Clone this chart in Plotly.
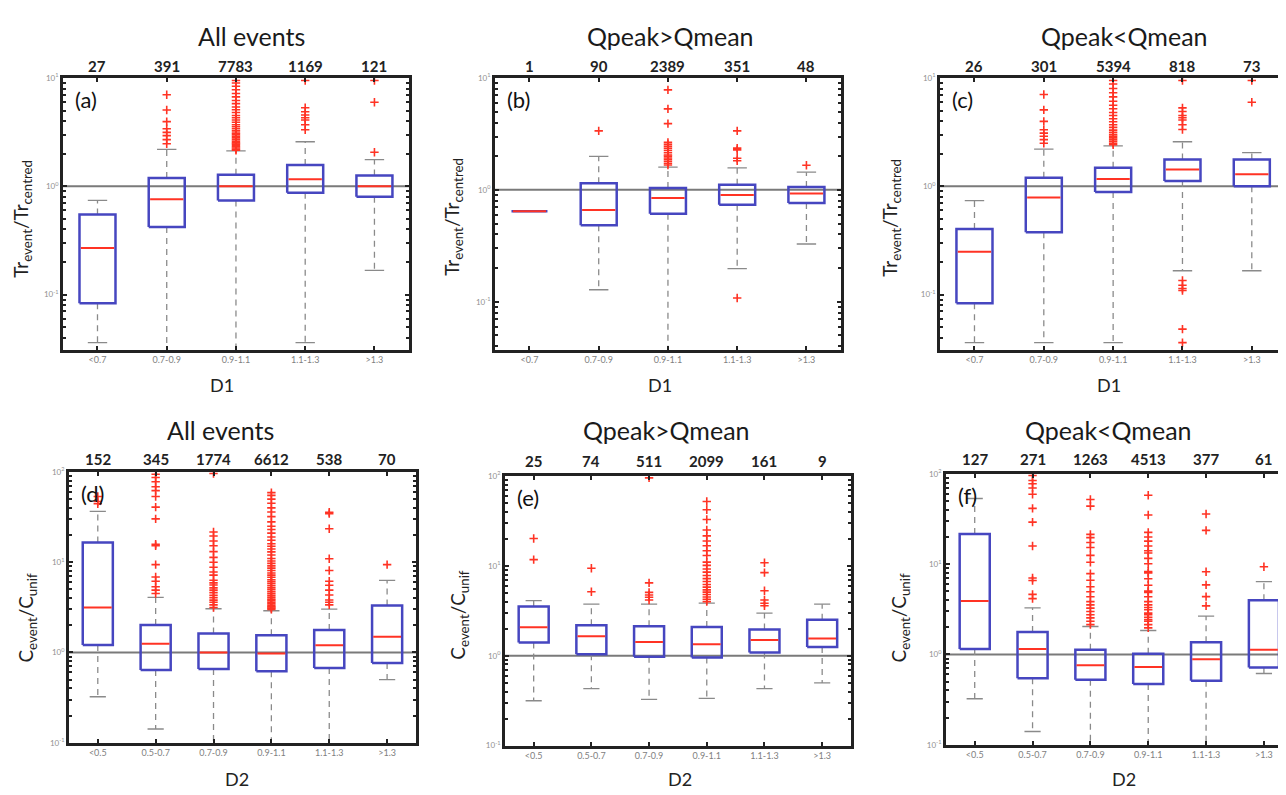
import plotly.graph_objects as go

# The page body has an 8px margin, so the figure is sized to the visible area
# and all layout positions are expressed in window pixels minus that margin.
PAGE_MARGIN = 8
W, H = 1286 - PAGE_MARGIN, 795 - PAGE_MARGIN

# ---------------- data ----------------
cats_D1 = ["<0.7", "0.7-0.9", "0.9-1.1", "1.1-1.3", ">1.3"]
cats_D2 = ["<0.5", "0.5-0.7", "0.7-0.9", "0.9-1.1", "1.1-1.3", ">1.3"]

# (a) All events, D1
a_counts = [27, 391, 7783, 1169, 121]
a_q1 = [0.083, 0.42, 0.74, 0.87, 0.80]
a_med = [0.27, 0.76, 1.0, 1.16, 1.0]
a_q3 = [0.55, 1.19, 1.28, 1.57, 1.26]
a_lo = [0.036, 0.01, 0.01, 0.036, 0.167]
a_hi = [0.74, 2.19, 2.12, 2.58, 1.76]
a_out = [[],
         [7.0, 5.06, 3.96, 3.40, 3.15, 2.94, 2.70, 2.47],
         [9.5, 9.0, 8.4, 7.8, 7.2, 6.7, 6.2, 5.8, 5.4, 5.1, 4.8, 4.5, 4.3, 4.1, 3.9, 3.7,
          3.55, 3.4, 3.25, 3.1, 3.0, 2.9, 2.8, 2.7, 2.6, 2.52, 2.45, 2.38, 2.32, 2.26, 2.2, 2.15],
         [9.5, 5.31, 4.88, 4.56, 4.3, 4.1, 3.7, 3.33],
         [9.5, 5.97, 2.06]]

# (b) Qpeak>Qmean, D1
b_counts = [1, 90, 2389, 351, 48]
b_q1 = [0.645, 0.482, 0.611, 0.738, 0.763]
b_med = [0.645, 0.662, 0.845, 0.898, 0.928]
b_q3 = [0.645, 1.145, 1.04, 1.11, 1.06]
b_lo = [0.645, 0.128, 0.01, 0.198, 0.328]
b_hi = [0.645, 1.99, 1.60, 1.57, 1.44]
b_out = [[],
         [3.37],
         [7.84, 5.30, 3.91, 2.66, 2.55, 2.45, 2.35, 2.25, 2.15, 2.05, 2.0, 1.93, 1.87, 1.80, 1.73, 1.67],
         [3.37, 2.36, 2.28, 1.92, 1.82, 0.108],
         [1.66]]

# (c) Qpeak<Qmean, D1
c_counts = [26, 301, 5394, 818, 73]
c_q1 = [0.083, 0.376, 0.888, 1.12, 1.0]
c_med = [0.249, 0.789, 1.17, 1.43, 1.29]
c_q3 = [0.404, 1.2, 1.48, 1.77, 1.77]
c_lo = [0.036, 0.036, 0.036, 0.166, 0.166]
c_hi = [0.736, 2.2, 2.36, 2.58, 2.05]
c_out = [[],
         [7.05, 5.08, 3.98, 3.33, 3.1, 2.9, 2.7, 2.5],
         [9.5, 8.8, 8.0, 7.3, 6.7, 6.1, 5.6, 5.2, 4.8, 4.5, 4.2, 3.95, 3.7, 3.5, 3.3, 3.15,
          3.0, 2.9, 2.8, 2.7, 2.6, 2.5, 2.42],
         [9.5, 5.3, 4.9, 4.5, 4.3, 4.1, 3.7, 3.35, 0.135, 0.122, 0.114, 0.109, 0.048, 0.036],
         [9.5, 5.97]]

# (d) All events, D2
d_counts = [152, 345, 1774, 6612, 538, 70]
d_q1 = [1.21, 0.641, 0.658, 0.621, 0.675, 0.765]
d_med = [3.15, 1.25, 1.0, 0.975, 1.2, 1.49]
d_q3 = [16.5, 2.02, 1.62, 1.55, 1.77, 3.31]
d_lo = [0.323, 0.142, 0.05, 0.05, 0.05, 0.499]
d_hi = [36.6, 4.08, 3.05, 2.9, 3.02, 6.3]
d_out = [[53.4, 47.0, 44.4],
         [94.4, 86.7, 77.8, 68.6, 62.0, 53.4, 40.8, 30.2, 15.8, 15.2, 9.4, 6.86, 6.15, 5.34, 4.9, 4.5],
         [96.0, 21.6, 19.5, 17.2, 15.2, 13.1, 11.3, 10.0, 8.8, 7.8, 7.2, 6.3, 5.9, 5.6, 5.2, 4.9,
          4.6, 4.3, 4.05, 3.8, 3.6, 3.37, 3.15],
         [59, 55, 50, 45, 40, 36, 32, 28, 25, 23, 21, 19, 17.5, 16, 15, 14, 13, 12, 11, 10.3,
          9.7, 9.1, 8.6, 8.1, 7.6, 7.2, 6.8, 6.4, 6.1, 5.8, 5.5, 5.2, 4.95, 4.7, 4.5, 4.3, 4.1,
          3.9, 3.75, 3.6, 3.45, 3.3, 3.2, 3.1, 3.0],
         [35.7, 34.5, 23.5, 10.9, 8.1, 6.15, 5.56, 4.9, 4.33, 3.82, 3.6, 3.37],
         [9.4]]

# (e) Qpeak>Qmean, D2
e_counts = [25, 74, 511, 2099, 161, 9]
e_q1 = [1.40, 1.04, 0.975, 0.959, 1.09, 1.25]
e_med = [2.08, 1.65, 1.42, 1.34, 1.50, 1.55]
e_q3 = [3.53, 2.18, 2.13, 2.09, 1.96, 2.52]
e_lo = [0.316, 0.432, 0.327, 0.336, 0.432, 0.498]
e_hi = [4.1, 3.74, 3.74, 3.84, 2.98, 3.74]
e_out = [[20.1, 11.7],
         [9.4, 5.15],
         [95.0, 6.46, 5.06, 4.73, 4.47, 4.17],
         [51.9, 42.0, 32.7, 25.0, 21.5, 18.9, 16.7, 14.7, 13.0, 11.0, 10.1, 9.2, 8.5, 7.8, 7.2,
          6.7, 6.2, 5.8, 5.4, 5.1, 4.8, 4.5, 4.25, 4.0],
         [10.8, 8.4, 5.28, 4.17, 3.84, 3.59],
         []]

# (f) Qpeak<Qmean, D2
f_counts = [127, 271, 1263, 4513, 377, 61]
f_q1 = [1.15, 0.543, 0.525, 0.471, 0.512, 0.716]
f_med = [3.91, 1.15, 0.759, 0.727, 0.882, 1.13]
f_q3 = [21.6, 1.77, 1.13, 1.02, 1.36, 3.98]
f_lo = [0.323, 0.14, 0.05, 0.05, 0.05, 0.615]
f_hi = [53.4, 3.28, 2.04, 1.84, 2.66, 6.41]
f_out = [[],
         [96.0, 84.6, 77.8, 69.8, 59.5, 41.5, 29.2, 15.9, 7.03, 6.58, 4.63, 4.15],
         [52.0, 44.0, 21.4, 19.7, 17.4, 15.3, 12.5, 10.5, 7.85, 6.64, 5.61, 4.95, 4.36, 3.85,
          3.54, 3.26, 2.99, 2.75, 2.54, 2.33, 2.14],
         [58.0, 35.0, 22.5, 20.0, 18.0, 15.9, 14.1, 13.3, 11.6, 10.1, 8.3, 8.0, 6.9, 5.85, 5.03,
          4.86, 4.36, 3.85, 3.54, 3.31, 3.12, 2.87, 2.75, 2.58, 2.43, 2.33, 2.14, 1.97],
         [36.0, 23.7, 8.25, 5.9, 4.37, 3.45],
         [9.35]]

titles = ["All events", "Qpeak>Qmean", "Qpeak<Qmean"]
letters = ["(a)", "(b)", "(c)", "(d)", "(e)", "(f)"]
ytitle_top = "Tr<sub>event</sub>/Tr<sub>centred</sub>"
ytitle_bot = "C<sub>event</sub>/C<sub>unif</sub>"

# ---------------- styling / layout ----------------
BLUE = "#4646c0"
RED = "#ff3324"
GREY = "#8a8a8a"
FONT = "Lato"

def px(x):
    return (x - PAGE_MARGIN) / W

def py(y):
    return 1 - (y - PAGE_MARGIN) / H

panels = [
    dict(cats=cats_D1, counts=a_counts, q1=a_q1, med=a_med, q3=a_q3, lo=a_lo, hi=a_hi, out=a_out,
         xdom=[63, 410], ydom=[72, 348], yr=[-1.51, 1], xr=None,
         title=titles[0], tpos=(252, 29), xt="D1", xtpos=(223, 384), yt=ytitle_top, ytpos=(22, 215),
         cnt_y=60),
    dict(cats=cats_D1, counts=b_counts, q1=b_q1, med=b_med, q3=b_q3, lo=b_lo, hi=b_hi, out=b_out,
         xdom=[496, 843], ydom=[72, 348], yr=[-1.43, 1], xr=None,
         title=titles[1], tpos=(672, 29), xt="D1", xtpos=(662, 384), yt=ytitle_top, ytpos=(454, 213),
         cnt_y=60),
    dict(cats=cats_D1, counts=c_counts, q1=c_q1, med=c_med, q3=c_q3, lo=c_lo, hi=c_hi, out=c_out,
         xdom=[942, 1286], ydom=[72, 348], yr=[-1.51, 1], xr=[0.5, 5.45],
         title=titles[2], tpos=(1127, 29), xt="D1", xtpos=(1112, 384), yt=ytitle_top, ytpos=(893, 214),
         cnt_y=60),
    dict(cats=cats_D2, counts=d_counts, q1=d_q1, med=d_med, q3=d_q3, lo=d_lo, hi=d_hi, out=d_out,
         xdom=[69, 417], ydom=[472, 747], yr=[-1, 2], xr=None,
         title=titles[0], tpos=(221, 429), xt="D2", xtpos=(238, 784), yt=ytitle_bot, ytpos=(27, 620),
         cnt_y=459),
    dict(cats=cats_D2, counts=e_counts, q1=e_q1, med=e_med, q3=e_q3, lo=e_lo, hi=e_hi, out=e_out,
         xdom=[506, 853], ydom=[476, 750], yr=[-1, 2], xr=None,
         title=titles[1], tpos=(668, 429), xt="D2", xtpos=(682, 784), yt=ytitle_bot, ytpos=(460, 617),
         cnt_y=461),
    dict(cats=cats_D2, counts=f_counts, q1=f_q1, med=f_med, q3=f_q3, lo=f_lo, hi=f_hi, out=f_out,
         xdom=[948, 1286], ydom=[474, 749], yr=[-1, 2], xr=[0.5, 6.33],
         title=titles[2], tpos=(1111, 429), xt="D2", xtpos=(1127, 784), yt=ytitle_bot, ytpos=(902, 620),
         cnt_y=459),
]

BOX_HW = 0.26
CAP_HW = 0.14

fig = go.Figure()
annotations = []
layout_axes = {}

for k, p in enumerate(panels):
    n = len(p["cats"])
    sfx = "" if k == 0 else str(k + 1)
    xa, ya = "x" + sfx, "y" + sfx
    xs = list(range(1, n + 1))

    # reference line at 1
    fig.add_trace(go.Scatter(x=[0.5, n + 0.5], y=[1, 1], mode="lines", xaxis=xa, yaxis=ya,
                             line=dict(color="#7a7a7a", width=2), hoverinfo="skip", showlegend=False))
    # whiskers (dashed) and caps
    wx, wy, cx, cy = [], [], [], []
    for i, x in enumerate(xs):
        if p["hi"][i] > p["q3"][i]:
            wx += [x, x, None]; wy += [p["q3"][i], p["hi"][i], None]
            cx += [x - CAP_HW, x + CAP_HW, None]; cy += [p["hi"][i], p["hi"][i], None]
        if p["lo"][i] < p["q1"][i]:
            wx += [x, x, None]; wy += [p["q1"][i], p["lo"][i], None]
            cx += [x - CAP_HW, x + CAP_HW, None]; cy += [p["lo"][i], p["lo"][i], None]
    fig.add_trace(go.Scatter(x=wx, y=wy, mode="lines", xaxis=xa, yaxis=ya,
                             line=dict(color=GREY, width=1.3, dash="6px,5px"),
                             hoverinfo="skip", showlegend=False))
    fig.add_trace(go.Scatter(x=cx, y=cy, mode="lines", xaxis=xa, yaxis=ya,
                             line=dict(color=GREY, width=1.3), hoverinfo="skip", showlegend=False))
    # boxes
    bx, by = [], []
    for i, x in enumerate(xs):
        bx += [x - BOX_HW, x + BOX_HW, x + BOX_HW, x - BOX_HW, x - BOX_HW, None]
        by += [p["q1"][i], p["q1"][i], p["q3"][i], p["q3"][i], p["q1"][i], None]
    fig.add_trace(go.Scatter(x=bx, y=by, mode="lines", xaxis=xa, yaxis=ya,
                             line=dict(color=BLUE, width=2.5), hoverinfo="skip", showlegend=False))
    # medians
    mx, my = [], []
    for i, x in enumerate(xs):
        mx += [x - BOX_HW + 0.02, x + BOX_HW - 0.02, None]
        my += [p["med"][i], p["med"][i], None]
    fig.add_trace(go.Scatter(x=mx, y=my, mode="lines", xaxis=xa, yaxis=ya,
                             line=dict(color=RED, width=2), hoverinfo="skip", showlegend=False))
    # outliers
    ox, oy = [], []
    for i, x in enumerate(xs):
        for v in p["out"][i]:
            ox.append(x); oy.append(v)
    fig.add_trace(go.Scatter(x=ox, y=oy, mode="markers", xaxis=xa, yaxis=ya, cliponaxis=False,
                             marker=dict(symbol="cross-thin", size=6, line=dict(color=RED, width=1.6)),
                             hoverinfo="skip", showlegend=False))

    # y ticks: decades labelled, minor ticks at 2..9
    lo_dec, hi_dec = int(p["yr"][0] // 1), int(p["yr"][1])
    major_v, major_t, minor_v = [], [], []
    for d in range(lo_dec, hi_dec + 1):
        for m in range(1, 10):
            v = m * 10.0 ** d
            if 10 ** p["yr"][0] <= v <= 10 ** p["yr"][1] * 1.0001:
                if m == 1:
                    major_v.append(v); major_t.append(f"10<sup>{d}</sup>")
                else:
                    minor_v.append(v)

    xr = p["xr"] if p["xr"] else [0.5, n + 0.5]
    layout_axes["xaxis" + sfx] = dict(
        domain=[max(0, px(p["xdom"][0])), min(1, px(p["xdom"][1]))], anchor=ya, range=xr,
        tickvals=xs, ticktext=p["cats"], ticks="inside", ticklen=4, tickwidth=2, tickcolor="#222",
        mirror="allticks", showline=True, linecolor="#222", linewidth=2.5, showgrid=False,
        zeroline=False, tickfont=dict(family=FONT, size=9, color="#808080"), fixedrange=True)
    layout_axes["yaxis" + sfx] = dict(
        domain=[py(p["ydom"][1]), py(p["ydom"][0])], anchor=xa, type="log", range=p["yr"],
        tickvals=major_v, ticktext=major_t, ticks="inside", ticklen=4, tickwidth=1.5, tickcolor="#222",
        minor=dict(tickmode="array", tickvals=minor_v, ticks="inside", ticklen=3, tickwidth=1.5,
                   tickcolor="#222", showgrid=False),
        mirror="allticks", showline=True, linecolor="#222", linewidth=2.5, showgrid=False,
        zeroline=False, tickfont=dict(family=FONT, size=8, color="#909090"), fixedrange=True)

    # counts above each box
    for i, x in enumerate(xs):
        annotations.append(dict(x=x, xref=xa, y=py(p["cnt_y"]), yref="paper",
                                text="<b>" + str(p["counts"][i]) + "</b>",
                                showarrow=False, xanchor="center", yanchor="middle",
                                font=dict(family=FONT, size=15, color="#222")))
    # panel title
    annotations.append(dict(x=px(p["tpos"][0]), y=py(p["tpos"][1]), xref="paper", yref="paper",
                            text=p["title"], showarrow=False, xanchor="center", yanchor="middle",
                            font=dict(family=FONT, size=25, color="#1a1a1a")))
    # panel letter
    annotations.append(dict(x=0.03, y=0.92, xref=xa + " domain", yref=ya + " domain", text=letters[k],
                            showarrow=False, xanchor="left", yanchor="middle",
                            font=dict(family=FONT, size=22, color="#111")))
    # x title
    annotations.append(dict(x=px(p["xtpos"][0]), y=py(p["xtpos"][1]), xref="paper", yref="paper",
                            text=p["xt"], showarrow=False, xanchor="center", yanchor="middle",
                            font=dict(family=FONT, size=18, color="#222")))
    # y title
    annotations.append(dict(x=px(p["ytpos"][0]), y=py(p["ytpos"][1]), xref="paper", yref="paper",
                            text=p["yt"], showarrow=False, xanchor="center", yanchor="middle",
                            textangle=-90, font=dict(family=FONT, size=19, color="#222")))

fig.update_layout(
    width=W, height=H, margin=dict(l=0, r=0, t=0, b=0),
    paper_bgcolor="white", plot_bgcolor="white", showlegend=False,
    annotations=annotations, **layout_axes)

fig.write_html("out.html", config={"displayModeBar": False})
